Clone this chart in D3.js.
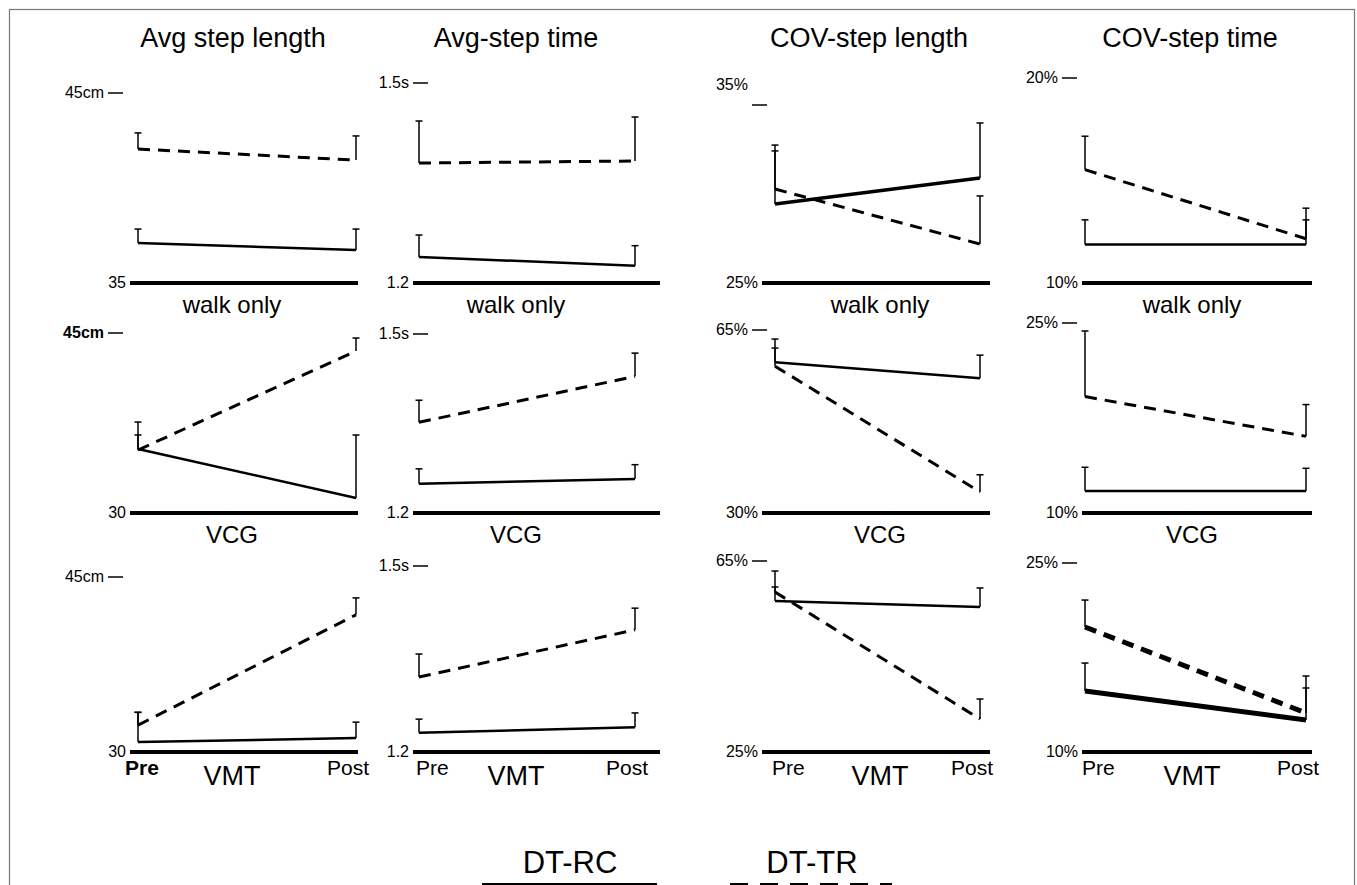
<!DOCTYPE html>
<html>
<head>
<meta charset="utf-8">
<script src="https://cdn.jsdelivr.net/npm/d3@7"></script>
<style>
  body { margin: 0; background: #fff; }
  svg { display: block; font-family: "Liberation Sans", Arial, sans-serif; }
</style>
</head>
<body>
<div id="chart"></div>
<script>
// Datos: filas = grupos, columnas = medidas, [Pre, Post]
const measures = ["Avg step length", "Avg-step time", "COV-step length", "COV-step time"];
const groups = ["walk only", "VCG", "VMT"];
const phases = ["Pre", "Post"];
const legendLabels = ["DT-RC", "DT-TR"];

const axisMin = [[35, 1.2, 25, 10], [30, 1.2, 30, 10], [30, 1.2, 25, 10]];
const axisMax = [[45, 1.5, 35, 20], [45, 1.5, 65, 25], [45, 1.5, 65, 25]];
const maxLabels = [["45cm", "1.5s", "35%", "20%"], ["45cm", "1.5s", "65%", "25%"], ["45cm", "1.5s", "65%", "25%"]];
const minLabels = [["35", "1.2", "25%", "10%"], ["30", "1.2", "30%", "10%"], ["30", "1.2", "25%", "10%"]];

// DT-RC (línea continua)
const rcMean = [
  [[37.1, 36.74], [1.239, 1.226], [29.44, 30.9], [11.875, 11.875]],
  [[35.33, 31.25], [1.249, 1.257], [58.85, 55.77], [11.73, 11.73]],
  [[30.85, 31.19], [1.231, 1.240], [56.62, 55.37], [14.84, 12.54]]
];
const rcErr = [
  [[37.84, 37.84], [1.272, 1.256], [32.75, 33.99], [13.08, 13.08]],
  [[36.5, 36.5], [1.274, 1.281], [63.27, 60.19], [13.61, 13.53]],
  [[33.4, 32.56], [1.253, 1.263], [62.9, 59.35], [17.06, 15.08]]
];
// DT-TR (línea discontinua)
const trMean = [
  [[42.05, 41.47], [1.38, 1.383], [30.28, 27.19], [15.53, 12.16]],
  [[35.25, 43.5], [1.352, 1.429], [58.08, 34.04], [19.19, 16.05]],
  [[32.3, 41.76], [1.321, 1.397], [58.5, 31.91], [19.92, 13.1]]
];
const trErr = [
  [[42.9, 42.74], [1.443, 1.449], [32.42, 29.89], [17.16, 13.65]],
  [[37.58, 44.58], [1.389, 1.468], [61.54, 37.31], [24.37, 18.56]],
  [[33.4, 43.21], [1.358, 1.432], [59.55, 36.1], [22.06, 16.03]]
];

// Disposición
const width = 1357, height = 885;
const titleX = [233, 516, 869, 1190];
const centerX = [232, 516, 880, 1192];
const preX = [138, 419, 775, 1085];
const postX = [356, 635, 980, 1306];
const lineX0 = [130, 413, 762, 1082];
const lineX1 = [358, 660, 990, 1312];
const tickX = [108, 413, 752, 1062];
const baseY = [283, 513, 752];
const topY = [[93, 83, 105, 78], [333, 334, 330, 323], [577, 566, 561, 563]];
const rcWidth = [[2.5, 2.5, 3.5, 2.5], [2.5, 2.5, 2.5, 2.5], [2.5, 2.5, 2.5, 5]];
const trWidth = [[3, 3, 3, 3], [3, 3, 3, 3], [3, 3, 3, 5]];

const svg = d3.select("#chart").append("svg")
  .attr("width", width)
  .attr("height", height);

// Marco
svg.append("rect")
  .attr("x", 9.5).attr("y", 9.5)
  .attr("width", 1345).attr("height", 900)
  .attr("fill", "none")
  .attr("stroke", "#777")
  .attr("stroke-width", 1.2);

// Títulos
measures.forEach((m, c) => {
  svg.append("text")
    .attr("x", titleX[c]).attr("y", 47)
    .attr("text-anchor", "middle")
    .attr("font-size", 27)
    .text(m);
});

function drawSeries(g, x, y, mean, err, w, dashed) {
  const line = d3.line().x((d, i) => x(phases[i])).y(d => y(d));
  g.append("path")
    .datum(mean)
    .attr("d", line)
    .attr("fill", "none")
    .attr("stroke", "#000")
    .attr("stroke-width", w)
    .attr("stroke-dasharray", dashed ? "12,8" : null);

  phases.forEach((p, i) => {
    g.append("line")
      .attr("x1", x(p)).attr("x2", x(p))
      .attr("y1", y(mean[i])).attr("y2", y(err[i]))
      .attr("stroke", "#000").attr("stroke-width", 1.5);
    g.append("line")
      .attr("x1", x(p) - 3.5).attr("x2", x(p) + 3.5)
      .attr("y1", y(err[i])).attr("y2", y(err[i]))
      .attr("stroke", "#000").attr("stroke-width", 1.5);
  });
}

groups.forEach((grp, r) => {
  measures.forEach((m, c) => {
    const g = svg.append("g");
    const y = d3.scaleLinear()
      .domain([axisMin[r][c], axisMax[r][c]])
      .range([baseY[r], topY[r][c]]);
    const x = d3.scalePoint().domain(phases).range([preX[c], postX[c]]);

    // línea base gruesa
    g.append("line")
      .attr("x1", lineX0[c]).attr("x2", lineX1[c])
      .attr("y1", y(axisMin[r][c])).attr("y2", y(axisMin[r][c]))
      .attr("stroke", "#000").attr("stroke-width", 4);

    g.append("text")
      .attr("x", lineX0[c] - 4).attr("y", y(axisMin[r][c]) + 5)
      .attr("text-anchor", "end")
      .attr("font-size", 16)
      .text(minLabels[r][c]);

    // marca superior
    const ty = y(axisMax[r][c]);
    const above = (r === 0 && c === 2);
    g.append("line")
      .attr("x1", tickX[c]).attr("x2", tickX[c] + 15)
      .attr("y1", ty).attr("y2", ty)
      .attr("stroke", "#000").attr("stroke-width", 1.5);
    g.append("text")
      .attr("x", tickX[c] - 4)
      .attr("y", above ? ty - 15 : ty + 5)
      .attr("text-anchor", "end")
      .attr("font-size", 16)
      .attr("font-weight", (r === 1 && c === 0) ? "bold" : null)
      .text(maxLabels[r][c]);

    drawSeries(g, x, y, rcMean[r][c], rcErr[r][c], rcWidth[r][c], false);
    drawSeries(g, x, y, trMean[r][c], trErr[r][c], trWidth[r][c], true);

    // etiqueta del grupo
    g.append("text")
      .attr("x", centerX[c]).attr("y", baseY[r] + (r === 2 ? 33 : 30))
      .attr("text-anchor", "middle")
      .attr("font-size", r === 2 ? 27 : 24)
      .text(grp);

    if (r === 2) {
      g.append("text")
        .attr("x", x("Pre") - (c === 0 ? 13 : 3)).attr("y", baseY[r] + 23)
        .attr("font-size", 21)
        .attr("font-weight", c === 0 ? "bold" : null)
        .text("Pre");
      g.append("text")
        .attr("x", x("Post") + 13).attr("y", baseY[r] + 23)
        .attr("text-anchor", "end")
        .attr("font-size", 21)
        .text("Post");
    }
  });
});

// Leyenda
const legX = [570, 812];
legendLabels.forEach((lab, i) => {
  svg.append("text")
    .attr("x", legX[i]).attr("y", 873)
    .attr("text-anchor", "middle")
    .attr("font-size", 31)
    .text(lab);
  svg.append("line")
    .attr("x1", legX[i] - (i === 0 ? 88 : 82)).attr("x2", legX[i] + (i === 0 ? 87 : 80))
    .attr("y1", 884).attr("y2", 884)
    .attr("stroke", "#000").attr("stroke-width", 2)
    .attr("stroke-dasharray", i === 1 ? "18,12" : null);
});
</script>
</body>
</html>
